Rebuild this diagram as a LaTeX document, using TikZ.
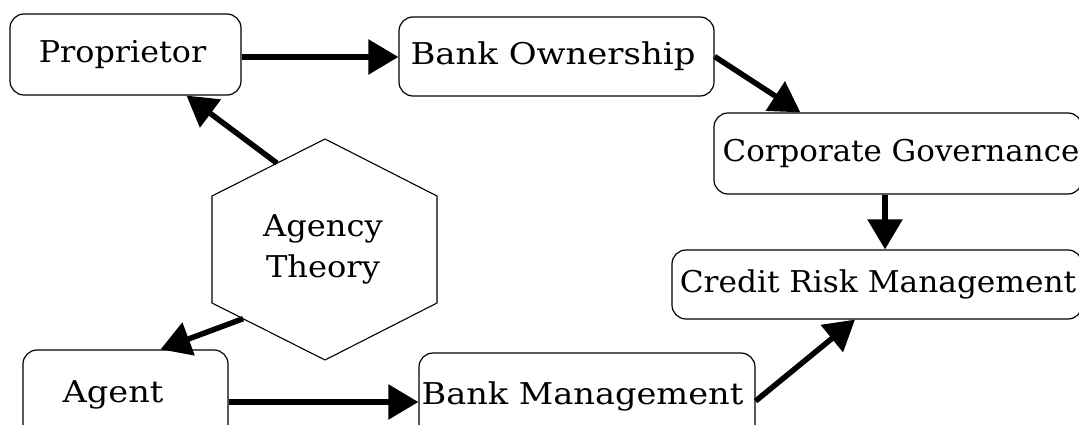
\documentclass[tikz,border=0pt]{standalone}
\usepackage{fontspec}
\setmainfont{DejaVu Serif}
\usetikzlibrary{arrows.meta,calc}
\tikzset{
  box/.style={draw=black, line width=1.2pt, rounded corners=14pt, inner sep=0pt,
    font=\fontsize{30}{41}\selectfont},
  conn/.style={line width=5.5pt, -{Triangle[length=30pt,width=34pt]}},
  hexline/.style={draw=black, line width=1.1pt, line join=miter},
}
\newcommand{\wid}[2]{\scalebox{#1}[1]{#2}}
\begin{document}
\begin{tikzpicture}[x=1pt,y=-1pt]
\clip (0,0) rectangle (1079,425);
\fill[white] (0,0) rectangle (1079,425);
% boxes
\node[box, minimum width=231pt, minimum height=81pt] (prop) at (125.5,54.5) {\raisebox{-5pt}{\hspace*{-6pt}\wid{1.06}{Proprietor}}};
\node[box, minimum width=315pt, minimum height=79pt] (bo) at (556.5,56.5) {\raisebox{-3pt}{\hspace*{-7pt}\wid{1.13}{Bank Ownership}}};
\node[box, minimum width=368pt, minimum height=81pt] (cg) at (898,153.5) {\raisebox{-6pt}{\hspace*{6pt}\wid{1.03}{Corporate Governance}}};
\node[box, minimum width=410pt, minimum height=69pt] (cr) at (877,284.5) {\raisebox{-4pt}{\hspace*{2pt}\wid{1.04}{Credit Risk Management}}};
\node[box, minimum width=205pt, minimum height=90pt] (agent) at (125.5,395) {\raisebox{6pt}{\hspace*{-25pt}\wid{1.12}{Agent}}};
\node[box, minimum width=336pt, minimum height=87pt] (bm) at (587,396.5) {\raisebox{2pt}{\hspace*{-9pt}\wid{1.12}{Bank Management}}};
% hexagon
\coordinate (hT) at (325,139);
\coordinate (hUR) at (437,196);
\coordinate (hLR) at (437,303);
\coordinate (hB) at (325,360);
\coordinate (hLL) at (212,303);
\coordinate (hUL) at (212,196);
\draw[hexline] (hT) -- (hUR) -- (hLR) -- (hB) -- (hLL) -- (hUL) -- cycle;
\node[align=center, font=\fontsize{30}{41}\selectfont, inner sep=0pt] (agency) at (323,249) {\wid{1.07}{Agency}\\\wid{1.07}{Theory}};
\coordinate (hexA) at ($(hUL)!0.575!(hT)$);
\coordinate (hexB) at ($(hLL)!0.275!(hB)$);
% connectors
\draw[conn] ([yshift=-2.5pt]prop.east) -- ([yshift=-2.5pt]prop.east -| bo.west);
\draw[conn] (bo.east) -- ($(cg.north west)+(87,0)$);
\draw[conn] ([xshift=-13pt]cg.south) -- ([xshift=-13pt]cg.south |- cr.north);
\draw[conn] (hexA) -- ([xshift=61pt]prop.south);
\draw[conn] (hexB) -- ([xshift=35pt]agent.north);
\draw[conn] ([yshift=-7pt]agent.east) -- ([yshift=-7pt]agent.east -| bm.west);
\draw[conn] ([yshift=-4.5pt]bm.east) -- ([xshift=-22pt]cr.south);
\end{tikzpicture}
\end{document}
